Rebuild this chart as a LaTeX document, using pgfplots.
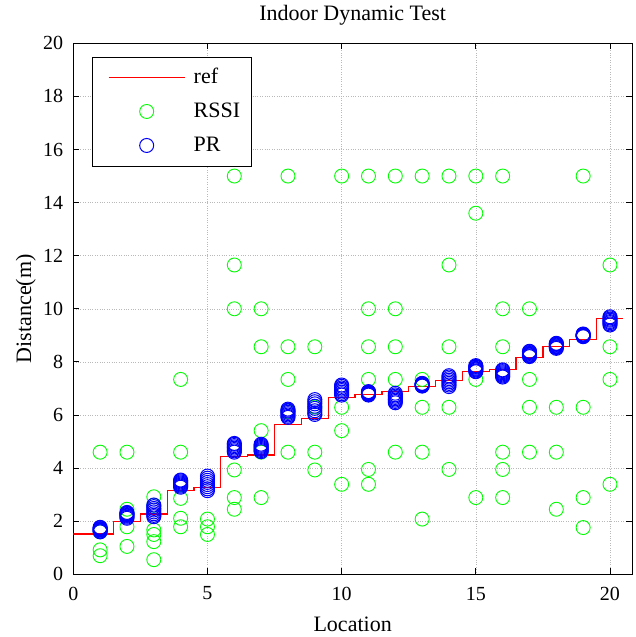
\documentclass[border=0pt]{standalone}
\usepackage{fontspec}
\setmainfont{Liberation Serif}
\usepackage{pgfplots}
\pgfplotsset{compat=1.18}
\definecolor{mgreen}{RGB}{0,255,0}
\definecolor{mblue}{RGB}{0,0,255}
\definecolor{mred}{RGB}{255,0,0}
\begin{document}
\begin{tikzpicture}
\path[use as bounding box] (-73.3bp,-62.7bp) rectangle (562.7bp,574.3bp);
\begin{axis}[
  scale only axis, width=558.7bp, height=531bp,
  xmin=0, xmax=20.82, ymin=0, ymax=20,
  xtick={0,5,10,15,20}, ytick={0,2,4,6,8,10,12,14,16,18,20},
  xticklabels={0,5,10,15,20},
  yticklabels={0,2,4,6,8,10,12,14,16,18,20},
  tick align=inside, major tick length=6bp,
  grid=major, grid style={dotted, gray!55, line width=0.5bp},
  axis line style={line width=0.8bp},
  every tick/.style={black, line width=0.8bp},
  tick label style={font=\fontsize{20bp}{24bp}\selectfont},
  xticklabel style={anchor=north, inner sep=0pt, yshift=-12.4bp},
  yticklabel style={anchor=east, inner sep=0pt, xshift=-10bp},
  title={Indoor Dynamic Test},
  title style={font=\fontsize{22bp}{26bp}\selectfont, at={(axis description cs:0.5,1.0326)}, anchor=base, inner sep=0pt},
  xlabel={Location},
  xlabel style={font=\fontsize{22bp}{26bp}\selectfont, at={(axis description cs:0.5,-0.1068)}, anchor=base, inner sep=0pt},
  ylabel={Distance(m)},
  ylabel style={font=\fontsize{22bp}{26bp}\selectfont, at={(axis description cs:-0.0757,0.5)}, anchor=base, inner sep=0pt},
  legend image code/.code={\path (-4.4bp,0bp);\draw[mark repeat=2,mark phase=2,#1] plot coordinates {(0bp,0bp)(38bp,0bp)(76bp,0bp)};},
  legend cell align=left,
  legend style={at={(axis description cs:0.034,0.975)}, anchor=north west,
    draw=black, line width=0.8bp, inner xsep=11bp, inner ysep=11bp,
    row sep=15bp, column sep=8.4bp,
    font=\fontsize{22bp}{26bp}\selectfont,
    nodes={inner sep=0pt, text height=16bp, text depth=3bp}},
]
\addplot[const plot, color=mred, line width=1.2bp] coordinates {
(0,1.52)(1.5,1.98)(2.5,2.27)(3.5,3.15)(4.5,3.26)(5.5,4.43)(6.5,4.49)(7.5,5.65)(8.5,5.87)(9.5,6.65)(10.5,6.78)(11.5,6.88)(12.5,7.07)(13.5,7.29)(14.5,7.63)(15.5,7.72)(16.5,8.17)(17.5,8.57)(18.5,8.85)(19.5,9.64)(20.5,9.64)};
\addlegendentry{ref}
\addplot[only marks, mark=o, mark size=7bp, color=mgreen, line width=0.9bp] coordinates {
(1,4.6)(1,1.6)(1,0.92)(1,0.7)
(2,4.6)(2,2.45)(2,2.3)(2,1.79)(2,1.05)
(3,2.92)(3,2.6)(3,1.67)(3,1.5)(3,1.23)(3,0.55)
(4,7.34)(4,4.6)(4,2.86)(4,2.11)(4,1.79)
(5,2.08)(5,1.79)(5,1.5)
(6,15)(6,11.65)(6,10)(6,3.93)(6,2.89)(6,2.45)
(7,10)(7,8.57)(7,5.41)(7,4.6)(7,2.89)
(8,15)(8,8.57)(8,7.34)(8,6.12)(8,4.6)
(9,8.57)(9,6.3)(9,4.6)(9,3.93)
(10,15)(10,6.29)(10,5.41)(10,3.39)
(11,15)(11,10)(11,8.57)(11,7.34)(11,3.95)(11,3.39)
(12,15)(12,10)(12,8.57)(12,7.34)(12,4.6)
(13,15)(13,7.34)(13,6.29)(13,4.6)(13,2.08)
(14,15)(14,11.65)(14,8.57)(14,6.29)(14,3.95)
(15,15)(15,13.6)(15,7.34)(15,2.89)
(16,15)(16,10)(16,8.57)(16,4.6)(16,3.95)(16,2.89)
(17,10)(17,7.34)(17,6.29)(17,4.6)
(18,8.57)(18,6.29)(18,4.6)(18,2.45)
(19,15)(19,6.29)(19,2.89)(19,1.76)
(20,11.65)(20,8.57)(20,7.34)(20,3.39)};
\addlegendentry{RSSI}
\addplot[only marks, mark=o, mark size=7bp, color=mblue, line width=1bp] coordinates {
(1,1.60)(1,1.63)(1,1.66)(1,1.68)(1,1.70)(1,1.72)(1,1.75)(1,1.77)
(2,2.11)(2,2.15)(2,2.19)(2,2.22)(2,2.25)(2,2.28)(2,2.30)(2,2.33)
(3,2.17)(3,2.22)(3,2.28)(3,2.35)(3,2.42)(3,2.48)(3,2.55)(3,2.61)
(4,3.28)(4,3.32)(4,3.36)(4,3.40)(4,3.44)(4,3.48)(4,3.52)(4,3.55)
(5,3.15)(5,3.22)(5,3.30)(5,3.38)(5,3.46)(5,3.54)(5,3.62)(5,3.70)
(6,4.60)(6,4.65)(6,4.70)(6,4.75)(6,4.80)(6,4.85)(6,4.90)(6,4.93)
(7,4.62)(7,4.66)(7,4.70)(7,4.74)(7,4.78)(7,4.82)(7,4.86)(7,4.90)
(8,5.91)(8,5.95)(8,6.00)(8,6.05)(8,6.10)(8,6.15)(8,6.18)(8,6.22)
(9,6.02)(9,6.08)(9,6.16)(9,6.25)(9,6.33)(9,6.42)(9,6.50)(9,6.58)
(10,6.75)(10,6.80)(10,6.86)(10,6.92)(10,6.97)(10,7.02)(10,7.08)(10,7.13)
(11,6.75)(11,6.77)(11,6.79)(11,6.81)(11,6.83)(11,6.85)(11,6.87)(11,6.88)
(12,6.46)(12,6.51)(12,6.56)(12,6.61)(12,6.66)(12,6.71)(12,6.76)(12,6.82)
(13,7.09)(13,7.10)(13,7.12)(13,7.13)(13,7.15)(13,7.16)(13,7.18)(13,7.19)
(14,7.07)(14,7.13)(14,7.19)(14,7.25)(14,7.31)(14,7.37)(14,7.43)(14,7.48)
(15,7.63)(15,7.66)(15,7.70)(15,7.73)(15,7.76)(15,7.80)(15,7.83)(15,7.86)
(16,7.43)(16,7.47)(16,7.51)(16,7.55)(16,7.59)(16,7.63)(16,7.67)(16,7.70)
(17,8.20)(17,8.23)(17,8.26)(17,8.29)(17,8.32)(17,8.35)(17,8.38)(17,8.40)
(18,8.51)(18,8.54)(18,8.57)(18,8.60)(18,8.63)(18,8.66)(18,8.68)(18,8.70)
(19,8.95)(19,8.96)(19,8.98)(19,8.99)(19,9.01)(19,9.02)(19,9.04)(19,9.05)
(20,9.39)(20,9.43)(20,9.48)(20,9.52)(20,9.57)(20,9.61)(20,9.66)(20,9.70)};
\addlegendentry{PR}
\end{axis}
\end{tikzpicture}
\end{document}
